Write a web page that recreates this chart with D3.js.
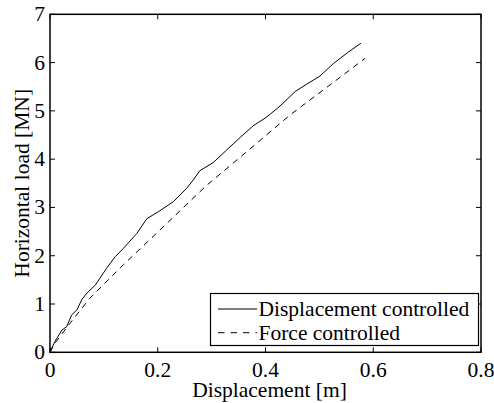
<!DOCTYPE html>
<html><head><meta charset="utf-8">
<script src="https://cdn.jsdelivr.net/npm/d3@7"></script>
<style>body{margin:0;background:#fff}svg{display:block}text{font-family:"Liberation Serif","Times New Roman",serif;fill:#000}</style>
</head><body>
<script>
const xTicks = [0, 0.2, 0.4, 0.6, 0.8];
const yTicks = [0, 1, 2, 3, 4, 5, 6, 7];
const dispX = [0, 0.003, 0.009, 0.022, 0.031, 0.040, 0.050, 0.059, 0.068, 0.084, 0.105, 0.121, 0.136, 0.161, 0.180, 0.201, 0.229, 0.254, 0.266, 0.278, 0.303, 0.328, 0.353, 0.377, 0.402, 0.427, 0.455, 0.476, 0.501, 0.526, 0.554, 0.577];
const dispY = [0, 0.08, 0.22, 0.46, 0.53, 0.77, 0.88, 1.09, 1.22, 1.39, 1.74, 1.98, 2.15, 2.46, 2.77, 2.91, 3.12, 3.40, 3.57, 3.76, 3.93, 4.19, 4.45, 4.69, 4.87, 5.10, 5.40, 5.55, 5.72, 5.98, 6.22, 6.40];
const forceX = [0, 0.010, 0.037, 0.074, 0.136, 0.201, 0.290, 0.370, 0.445, 0.520, 0.585];
const forceY = [0, 0.20, 0.60, 1.12, 1.81, 2.50, 3.45, 4.20, 4.91, 5.54, 6.09];
const seriesNames = ["Displacement controlled", "Force controlled"];
const xLabel = "Displacement [m]";
const yLabel = "Horizontal load [MN]";

const W = 494, H = 403;
const L = 50, R = 481, T = 14.3, B = 352.3;
const svg = d3.select("body").append("svg").attr("width", W).attr("height", H);
const x = d3.scaleLinear().domain([0, 0.8]).range([L, R]);
const y = d3.scaleLinear().domain([0, 7]).range([B, T]);
const fs = 21.5;

// ticks inward on all sides
const g = svg.append("g");
const tl = 5;
xTicks.forEach(v => {
  g.append("line").attr("x1", x(v)).attr("x2", x(v)).attr("y1", B).attr("y2", B - tl).attr("stroke", "#000");
  g.append("line").attr("x1", x(v)).attr("x2", x(v)).attr("y1", T).attr("y2", T + tl).attr("stroke", "#000");
  g.append("text").attr("x", x(v)).attr("y", B + 24.5).attr("text-anchor", "middle").attr("font-size", fs).text(v === 0 ? "0" : d3.format(".1f")(v));
});
yTicks.forEach(v => {
  g.append("line").attr("x1", L).attr("x2", L + tl).attr("y1", y(v)).attr("y2", y(v)).attr("stroke", "#000");
  g.append("line").attr("x1", R).attr("x2", R - tl).attr("y1", y(v)).attr("y2", y(v)).attr("stroke", "#000");
  g.append("text").attr("x", L - 5).attr("y", y(v) + 7).attr("text-anchor", "end").attr("font-size", fs).text(v);
});

const line = d3.line().x(d => x(d[0])).y(d => y(d[1]));
const dispData = dispX.map((v, i) => [v, dispY[i]]);
const forceData = forceX.map((v, i) => [v, forceY[i]]);
svg.append("path").attr("d", line(dispData)).attr("fill", "none").attr("stroke", "#000").attr("stroke-width", 1);
svg.append("path").attr("d", line(forceData)).attr("fill", "none").attr("stroke", "#000").attr("stroke-width", 1).attr("stroke-dasharray", "6,5");

// frame
svg.append("rect").attr("x", L).attr("y", T).attr("width", R - L).attr("height", B - T).attr("fill", "none").attr("stroke", "#000").attr("stroke-width", 1.5);

// legend
const lg = svg.append("g");
lg.append("rect").attr("x", 210.5).attr("y", 293.5).attr("width", 268).attr("height", 52).attr("fill", "#fff").attr("stroke", "#000").attr("stroke-width", 1.2);
[[309, null], [332.7, "6,5"]].forEach((r, i) => {
  const l = lg.append("line").attr("x1", 218).attr("x2", 257).attr("y1", r[0]).attr("y2", r[0]).attr("stroke", "#000").attr("stroke-width", 1);
  if (r[1]) l.attr("stroke-dasharray", "6.5,6");
  lg.append("text").attr("x", 258.5).attr("y", r[0] + 7).attr("font-size", fs).text(seriesNames[i]);
});

svg.append("text").attr("x", (L + R) / 2 + 4).attr("y", 397).attr("text-anchor", "middle").attr("font-size", fs).text(xLabel);
svg.append("text").attr("transform", `translate(29,${(T + B) / 2}) rotate(-90)`).attr("text-anchor", "middle").attr("font-size", fs).text(yLabel);
</script>
</body></html>
